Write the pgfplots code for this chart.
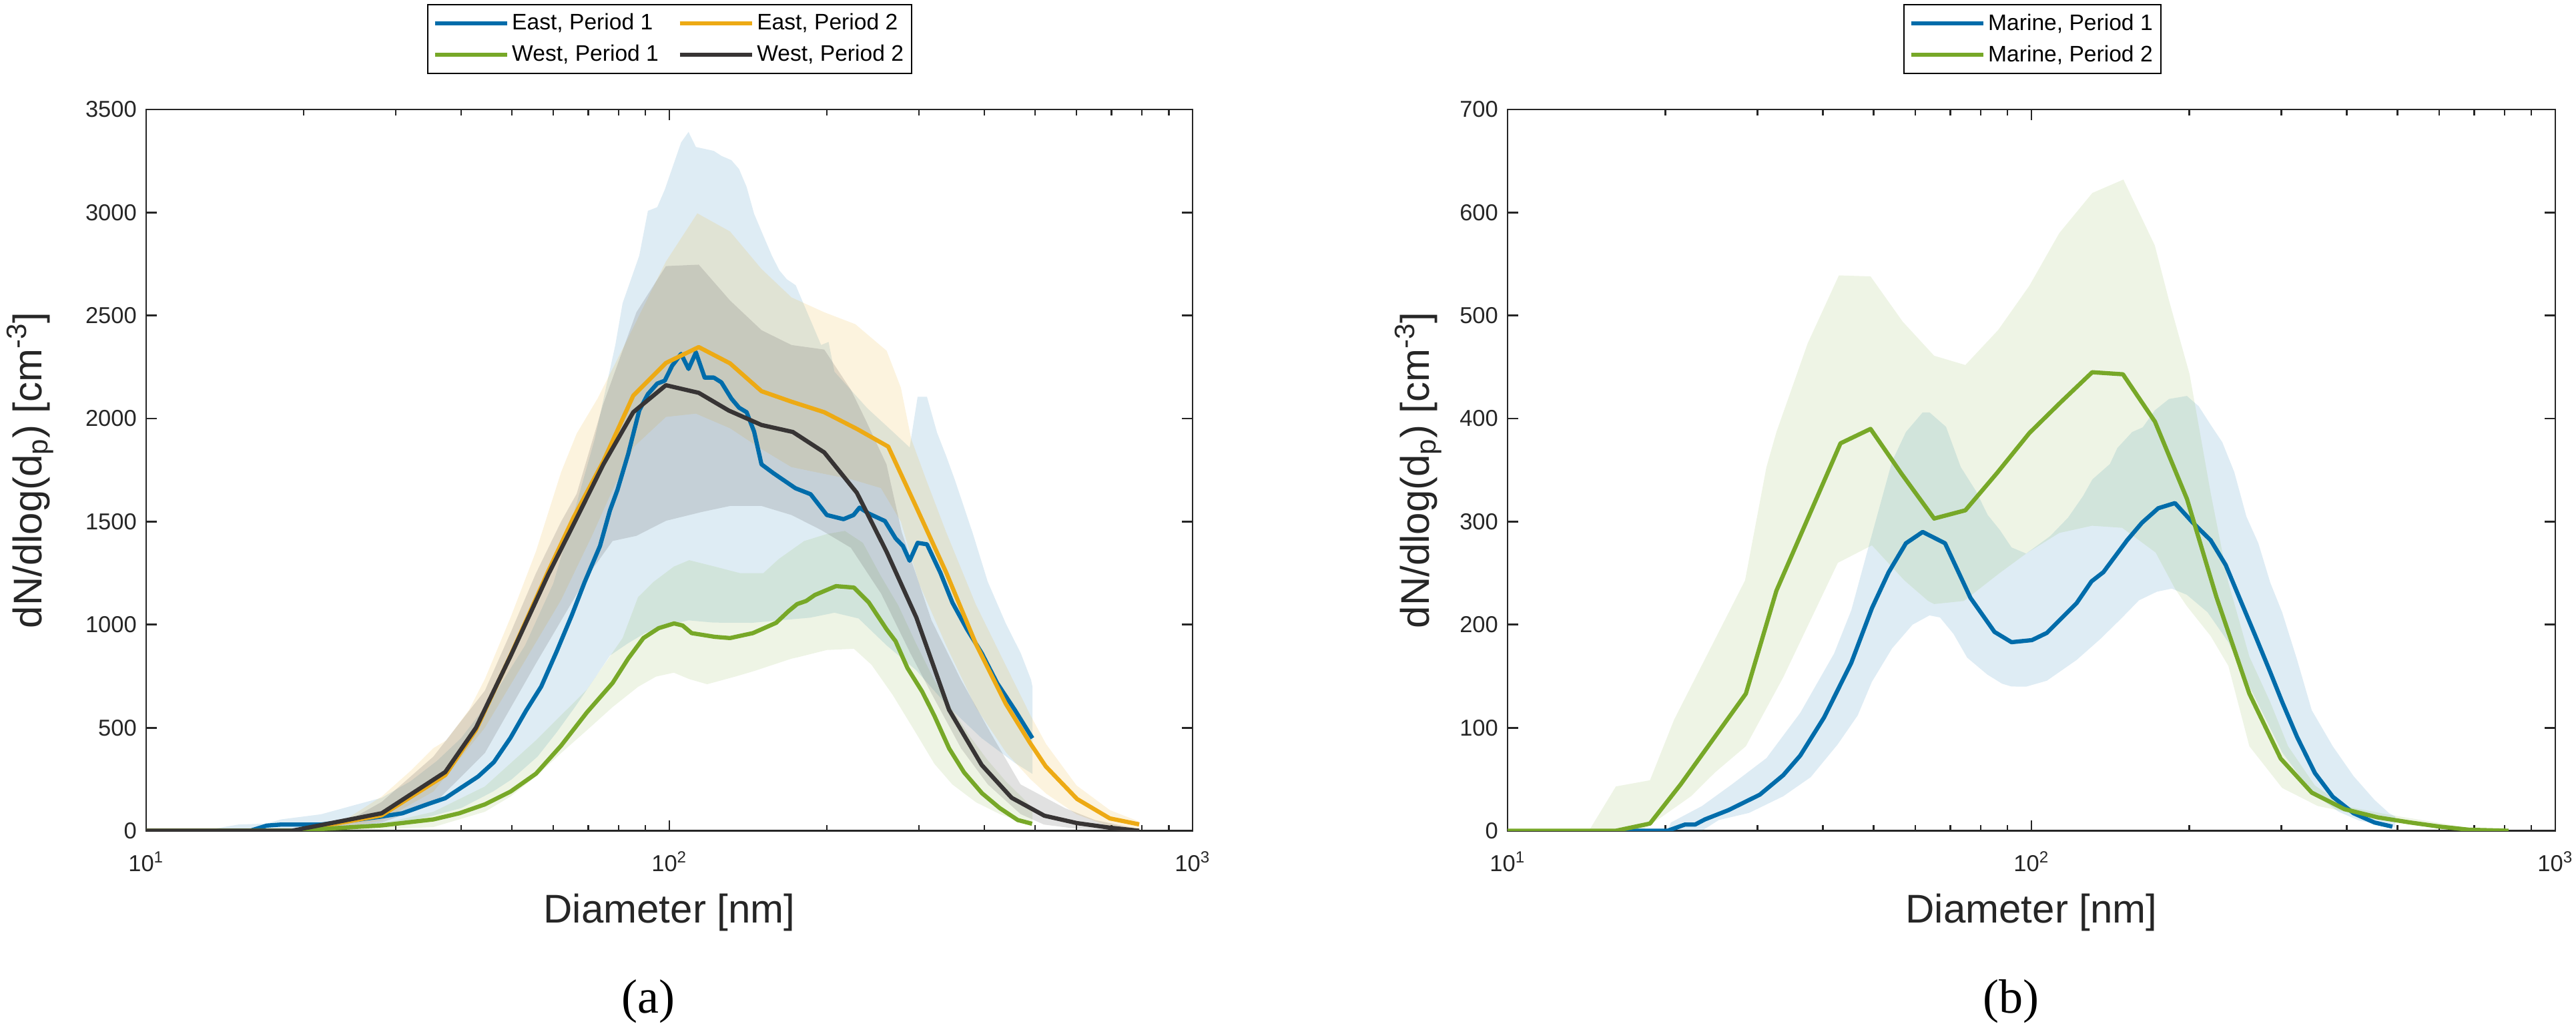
\documentclass[border=0pt]{standalone}
\usepackage{fontspec}
\setmainfont{Liberation Sans}
\newfontfamily\seriffont{Liberation Serif}
\usepackage{pgfplots}
\pgfplotsset{compat=1.18}

\definecolor{cblue}{RGB}{0,108,170}
\definecolor{corange}{RGB}{237,170,20}
\definecolor{cgreen}{RGB}{119,168,40}
\definecolor{cdark}{RGB}{55,52,52}
\definecolor{axcol}{RGB}{38,38,38}

\begin{document}
\begin{tikzpicture}
\path (0,0) rectangle (1286.67pt,512.67pt);

% ---------------- panel (a) ----------------
\begin{axis}[at={(73pt,97.83pt)}, anchor=south west,
  scale only axis, width=522.67pt, height=360.17pt, clip mode=individual,
  xmode=log, xmin=10, xmax=1000, ymin=0, ymax=3500, ytick={0,500,...,3500},
  xtick={10,100,1000},
  xticklabels={10\textsuperscript{1},10\textsuperscript{2},10\textsuperscript{3}},
  minor xtick={20,30,40,50,60,70,80,90,200,300,400,500,600,700,800,900},
  tick align=inside, major tick length=5.2pt, minor tick length=3pt,
  axis line style={axcol, line width=0.9pt},
  every tick/.append style={axcol, line width=0.9pt},
  tick label style={font=\fontsize{11.5}{13.8}\selectfont, text=axcol},
  xticklabel style={yshift=-6.9pt, inner xsep=0pt},
  yticklabel style={xshift=-1.2pt, /pgf/number format/1000 sep={}, /pgf/number format/assume math mode=true},
  xlabel={Diameter [nm]},
  ylabel={dN/dlog(d\textsubscript{p}) [cm\textsuperscript{-3}]},
  label style={font=\fontsize{20}{24}\selectfont, text=axcol},
  xlabel style={at={(axis description cs:0.5,-0.113)}, anchor=center},
  ylabel style={at={(axis description cs:-0.1106,0.5)}, anchor=center},
  legend image code/.code={\draw[#1] (0pt,0pt) -- (36pt,0pt);},
  legend cell align=left,
  legend columns=2,
  legend style={font=\fontsize{11.2}{13.4}\selectfont, text=black, draw=black, line width=0.6pt,
    inner xsep=2.5pt, inner ysep=3pt, row sep=3pt, nodes={inner sep=1.5pt},
    at={(0.2685,1.1462)}, anchor=north west, /tikz/column 2/.style={column sep=8pt}},
]
% East P1 band
\addplot[fill=cblue, fill opacity=0.13, draw=none, forget plot] coordinates {(12.8,0)(15,30)(17,35)(18.1,55)(21.6,80)(24.9,123)(28.2,160)(32,240)(36,340)(40,450)(46,650)(53,900)(60,1200)(65,1500)(72,1900)(78.85,2357)(81.4,2560)(87.6,2791)(91,3008)(94.8,3026)(98,3111)(105.3,3340)(108.8,3391)(112.4,3318)(121.6,3299)(125.7,3275)(131.4,3254)(135.9,3211)(140.5,3124)(145.2,2994)(150.9,2893)(157,2791)(162.3,2719)(167.7,2676)(174.4,2647)(180.3,2560)(187.5,2459)(195,2357)(201.5,2372)(206.8,2227)(239,2050)(269,1930)(287.9,1860)(298.2,2106)(310.7,2106)(324.8,1932)(338.3,1817)(351.5,1701)(380.5,1440)(405.9,1209)(439.5,1006)(469.4,862)(491.3,732)(494.2,700)
(494.2,276)(457,330)(395,450)(342,600)(296,780)(260,900)(230,1030)(206.8,1058)(186,1034)(144,1009)(121.6,1010)(108.8,1021)(100,1000)(90,960)(83.4,910)(77,850)(72,740)(66,600)(61,480)(56,360)(50,250)(46,190)(40,110)(35,70)(30,35)(25,12)(20,0)(12.8,0)};
% East P2 band
\addplot[fill=corange, fill opacity=0.14, draw=none, forget plot] coordinates {(17,0)(20,15)(23.9,50)(28.2,166)(32,290)(35.4,401)(37.5,439)(41.4,586)(44.4,736)(49.7,1034)(55.6,1356)(62.1,1740)(66.5,1927)(72.9,2097)(82.1,2357)(98.5,2762)(113.1,2996)(130.6,2908)(150,2726)(171.2,2588)(197.7,2516)(226.7,2458)(260.2,2329)(277,2150)(290,1900)(310,1700)(338,1450)(385,1100)(440,800)(490,560)(525,420)(600,220)(695,100)(790,45)
(790,10)(695,20)(600,80)(525,180)(490,250)(440,380)(385,600)(338,900)(300,1200)(277,1500)(253.7,1663)(222.3,1706)(194.8,1735)(171,1765)(150,1852)(130.6,1953)(112.4,2024)(98.5,2008)(85.7,1865)(77.9,1654)(71.1,1430)(62.1,1120)(52.6,812)(44.4,500)(35.4,190)(28.2,50)(22,0)(17,0)};
% West P1 band
\addplot[fill=cgreen, fill opacity=0.12, draw=none, forget plot] coordinates {(19,0)(25,20)(30,50)(35.4,92)(44.4,215)(55.6,439)(69.6,686)(81.4,935)(87.1,1133)(93.2,1207)(102,1282)(109.1,1313)(122.1,1282)(136.5,1250)(151.2,1250)(161.9,1319)(175.5,1382)(181,1406)(200,1440)(216.5,1455)(234.4,1397)(253.4,1238)(273.8,1094)(296.5,906)(321,731)(347.3,588)(375.6,457)(405.9,342)(439.5,240)(475.8,154)(494.2,110)
(494.2,23)(428,81)(385.6,138)(347.3,225)(321,325)(296.5,471)(267.2,659)(243.5,805)(225.3,883)(200,877)(175.5,841)(171.2,835)(144.4,773)(133.6,748)(118.1,711)(109.1,736)(102,767)(94.3,748)(87.1,698)(77.9,600)(69.6,488)(62.1,377)(55.6,264)(49.7,166)(44.4,92)(35.4,18)(25,0)(19,0)};
% West P2 band
\addplot[fill=cdark, fill opacity=0.15, draw=none, forget plot] coordinates {(10,0)(19,0)(24,40)(28.2,140)(35.4,360)(44.4,680)(49.7,960)(55.6,1250)(62.1,1500)(66.5,1635)(74.7,2068)(86.5,2516)(98.5,2740)(113.8,2747)(130.6,2573)(150,2429)(171.2,2357)(197.7,2335)(222.3,2140)(237,1995)(260,1778)(278,1450)(317,1021)(361,732)(412,471)(469,225)(570,110)(651,52)(790,8)
(790,0)(600,10)(520,30)(469,81)(406,225)(361,400)(318,659)(289,860)(254,1150)(222.3,1373)(194.8,1460)(171.2,1532)(150,1576)(130.6,1576)(115.4,1547)(98.5,1504)(86.5,1431)(77.9,1406)(69.6,1233)(55.6,812)(44.4,377)(35.4,128)(28.2,40)(22,0)(10,0)};

% mean lines
\addplot[cblue, line width=2.1pt, line join=round] coordinates {(10,0)(15.8,0)(17,25)(18.1,30)(21.6,30)(23.9,45)(28.2,69)(30.9,85)(34.6,130)(37.3,158)(40,209)(43.1,263)(46.2,333)(49.7,451)(53.2,582)(56.9,700)(60.9,870)(65.1,1046)(68.9,1207)(73.7,1382)(77,1554)(79.6,1654)(83.4,1827)(87.6,2040)(91,2119)(94.8,2170)(98,2184)(101.2,2256)(105.3,2314)(108.8,2241)(112.4,2321)(116.8,2199)(121.6,2199)(125.7,2176)(131.4,2097)(135.9,2053)(140.5,2031)(145.2,1937)(150,1778)(158.1,1735)(164.3,1706)(174.2,1662)(186.2,1633)(200,1532)(215.2,1512)(224.9,1532)(230.9,1568)(240.6,1539)(258.2,1503)(270.6,1419)(279.5,1382)(287.9,1310)(298.2,1397)(310.7,1390)(329.6,1252)(347.5,1107)(370.7,977)(395.4,862)(423,717)(457.2,587)(494.2,449)};
\addlegendentry{East, Period 1}
\addplot[corange, line width=2.1pt, line join=round] coordinates {(10,0)(19.4,0)(28.2,75)(37.3,270)(42.7,490)(49.7,850)(58.7,1260)(65.6,1520)(74.8,1793)(85.3,2111)(98.5,2270)(113.8,2347)(130.6,2268)(150,2133)(171.2,2082)(197.7,2031)(228.2,1950)(262,1864)(296.5,1570)(338.3,1252)(385.6,905)(439.5,616)(488.5,428)(524.2,312)(601.6,154)(694.7,60)(790.7,31)};
\addlegendentry{East, Period 2}
\addplot[cgreen, line width=2.1pt, line join=round] coordinates {(10,0)(19,0)(28.2,26)(35.4,55)(39.7,85)(44.4,128)(49.7,190)(55.6,277)(62.1,413)(69.6,575)(77.9,717)(83.4,835)(89.2,935)(95.4,983)(102.1,1006)(106,996)(110.3,959)(122.1,941)(130.6,935)(144.4,959)(160,1009)(168.7,1064)(175.5,1100)(182.6,1115)(189.7,1144)(208.2,1187)(225.3,1180)(240.5,1108)(260.2,977)(270.6,920)(285.2,789)(304.4,674)(321,558)(342.6,399)(365.9,283)(395.9,182)(428,110)(463.3,52)(493.3,34)};
\addlegendentry{West, Period 1}
\addplot[cdark, line width=2.1pt, line join=round] coordinates {(10,0)(19,0)(28.2,85)(37.3,285)(42.7,500)(49.7,847)(58.7,1244)(65.7,1490)(74.8,1778)(85.3,2031)(98.5,2162)(113.8,2125)(129.9,2039)(150,1969)(172.2,1935)(197.7,1836)(228.2,1640)(260.2,1353)(296.5,1035)(342.4,587)(395.4,319)(451,160)(520.9,73)(601.6,37)(694.7,15)(790.7,0)};
\addlegendentry{West, Period 2}
\node[font=\seriffont\fontsize{24}{28}\selectfont, text=black] at (axis description cs:0.4796,-0.2365) {(a)};
\end{axis}

% ---------------- panel (b) ----------------
\begin{axis}[at={(753pt,97.83pt)}, anchor=south west,
  scale only axis, width=523.33pt, height=360.17pt, clip mode=individual,
  xmode=log, xmin=10, xmax=1000, ymin=0, ymax=700, ytick={0,100,...,700},
  xtick={10,100,1000},
  xticklabels={10\textsuperscript{1},10\textsuperscript{2},10\textsuperscript{3}},
  minor xtick={20,30,40,50,60,70,80,90,200,300,400,500,600,700,800,900},
  tick align=inside, major tick length=5.2pt, minor tick length=3pt,
  axis line style={axcol, line width=0.9pt},
  every tick/.append style={axcol, line width=0.9pt},
  tick label style={font=\fontsize{11.5}{13.8}\selectfont, text=axcol},
  xticklabel style={yshift=-6.9pt, inner xsep=0pt},
  yticklabel style={xshift=-1.2pt, /pgf/number format/1000 sep={}, /pgf/number format/assume math mode=true},
  xlabel={Diameter [nm]},
  ylabel={dN/dlog(d\textsubscript{p}) [cm\textsuperscript{-3}]},
  label style={font=\fontsize{20}{24}\selectfont, text=axcol},
  xlabel style={at={(axis description cs:0.5,-0.113)}, anchor=center},
  ylabel style={at={(axis description cs:-0.0854,0.5)}, anchor=center},
  legend image code/.code={\draw[#1] (0pt,0pt) -- (36pt,0pt);},
  legend cell align=left,
  legend style={font=\fontsize{11.2}{13.4}\selectfont, text=black, draw=black, line width=0.6pt,
    inner xsep=2.5pt, inner ysep=3pt, row sep=3pt, nodes={inner sep=1.5pt},
    at={(0.3777,1.1458)}, anchor=north west},
]
% Marine P1 band
\addplot[fill=cblue, fill opacity=0.13, draw=none, forget plot] coordinates {(20.2,0)(20.5,8)(23.5,24)(26.8,45)(31.2,70.5)(36.2,114.5)(42,172)(45.3,214)(48.9,276)(54.2,358.5)(57.6,387)(62,406)(63.9,406)(68.7,392)(73.3,353)(78.3,330)(82.5,306.5)(87,292)(91.6,275)(97.7,269)(108.6,286)(117.5,304)(125.5,325)(130.7,341)(141.2,356)(145.9,371.5)(155.7,387)(163.1,391.5)(172,408)(183,419)(198,422)(208.6,412)(219.8,394)(231.4,377)(243.9,348)(257.2,305)(271.1,279)(285.6,241)(301,212)(321.4,166)(342.8,117)(376,82)(412,53)(451.6,30)(481.7,17)(494.8,14)
(494.8,3)(469.1,5.4)(423,9.7)(386,18.4)(352,33)(325.3,53)(301,76)(278.4,111)(260.6,140)(237.6,183)(216.9,212)(198,229)(185.4,235)(173.6,232)(160.4,223.6)(148.4,206)(135.3,186)(122,165.8)(107,145.6)(97.6,139.8)(91.6,140)(87.9,142.7)(82.4,151.5)(75.4,168)(71,191)(66.9,207)(63.9,209)(59.3,200)(54.2,177)(49.6,144.6)(46.6,112)(42.7,84)(37.9,52)(33.6,33.5)(28.9,17.3)(25.3,10.4)(23.5,0)(20.2,0)};
% Marine P2 band
\addplot[fill=cgreen, fill opacity=0.12, draw=none, forget plot] coordinates {(14.3,0)(16.1,43)(18.7,49)(20.8,108)(24.5,179)(28.4,243)(31.2,353)(32.6,387)(37.4,473)(42.9,539)(49.3,538)(56.8,494)(65.2,461)(74.8,452)(86.4,486)(99.1,529)(113,580)(130.7,619)(149.8,632)(172,568)(183,515)(200.4,443)(219.8,328)(237.6,241)(260.6,169)(285.6,125)(309,82)(347.6,44)(395.9,24)(481.7,15.5)(610.4,7)(685,2.5)(814,0)
(685,1)(549.6,7)(423,15.5)(352,24)(301,41.5)(260.6,82)(237.6,160)(219.8,189)(198,218)(187.9,235)(172.6,270)(149,294)(130.5,296)(113,289)(97.7,269)(86.9,250)(74.3,223)(65.2,220)(63.5,223)(57.2,243)(49.6,277)(42.7,260)(33.6,149)(28.5,82)(24.9,56.7)(22.4,33.5)(19.6,12.7)(18,0)(14.3,0)};

\addplot[cblue, line width=2.1pt, line join=round] coordinates {(16.1,0)(20.2,0)(21.8,6)(22.8,6)(23.8,11)(26.4,20)(30.3,35)(33.6,54)(36.2,73)(40.2,110)(45.3,163)(49.6,216)(53.4,251)(57.6,279)(62,290)(68.4,279)(76.5,226)(85,193)(91.6,183)(100.2,185)(107,192)(122,221)(130.2,242)(137.2,251)(152.3,282)(162.6,299)(174.6,313)(187.9,318)(203.2,299)(219.8,282)(234.8,258)(250.4,224)(267.6,189)(285.6,154)(301,125)(321.4,91)(347.6,56)(376,33)(412,17)(451.6,8)(488.6,4)};
\addlegendentry{Marine, Period 1}
\addplot[cgreen, line width=2.1pt, line join=round] coordinates {(10,0)(16.1,0)(18.7,7)(21.4,45)(28.5,133)(32.6,233)(43.2,376)(49.3,390)(56.4,347)(65.2,303)(74.8,311)(85.9,347)(99.1,386)(113.8,416)(130.6,445)(149.5,443)(172.1,397)(198.1,322)(225.4,227)(260.6,133)(299.1,70)(342.8,37)(395.9,21)(457.7,13)(528.6,8)(602,4)(685,1)(814,0)};
\addlegendentry{Marine, Period 2}
\node[font=\seriffont\fontsize{24}{28}\selectfont, text=black] at (axis description cs:0.4803,-0.2365) {(b)};
\end{axis}
\end{tikzpicture}
\end{document}
